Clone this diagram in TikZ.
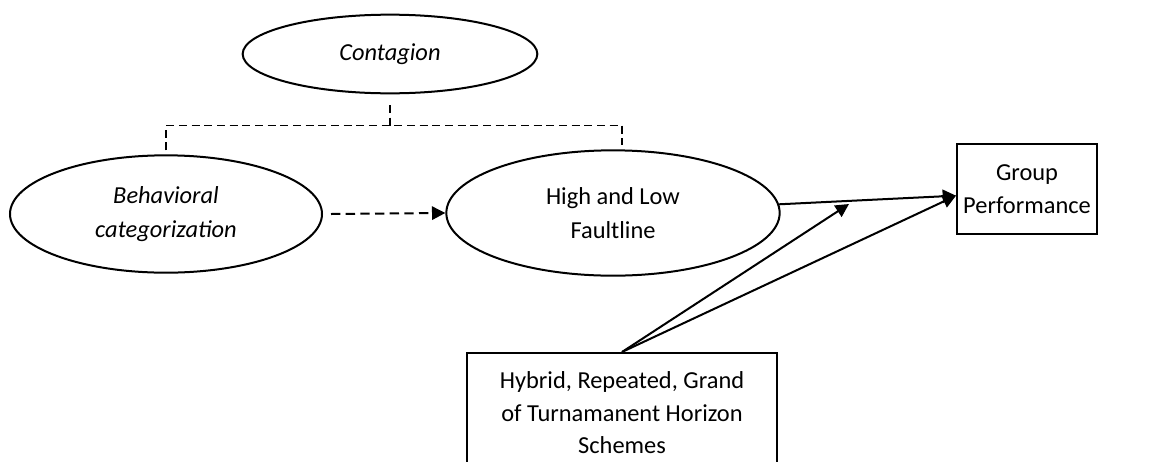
\documentclass[tikz,border=0pt]{standalone}
\usepackage{fontspec}
\setmainfont{Carlito}
\usetikzlibrary{shapes.geometric, arrows.meta, positioning, calc}

\begin{document}
\begin{tikzpicture}[x=0.75pt, y=-0.75pt,
  construct/.style={ellipse, draw, line width=1.5pt, inner sep=0pt, align=center, font=\fontsize{18.3}{25.5}\selectfont},
  italconstruct/.style={construct, font=\fontsize{18.3}{25.5}\selectfont\itshape},
  box/.style={rectangle, draw, line width=1.5pt, align=center, font=\fontsize{18.3}{24.5}\selectfont},
  link/.style={-{Triangle[length=10pt, width=10pt]}, line width=1.5pt},
  dashlink/.style={link, dash pattern=on 7pt off 4pt},
  bracket/.style={line width=1.2pt, dash pattern=on 6pt off 3.5pt}
]
  \clip (0,0) rectangle (1157,461);
  \node[italconstruct, minimum width=221pt, minimum height=59pt] (contagion) at (390,54) {Contagion};
  \node[italconstruct, minimum width=234pt, minimum height=88pt] (behav) at (166,214) {Behavioral\\categorization};
  \node[construct, minimum width=250pt, minimum height=94pt] (fault) at (613,213) {High and Low\\Faultline};
  \node[box, minimum width=105pt, minimum height=68pt] (perf) at (1027,189) {Group\\Performance};
  \node[box, anchor=north, minimum width=233pt, inner ysep=14pt] (scheme) at (622,352) {Hybrid, Repeated, Grand\\of Turnamanent Horizon\\Schemes};
  \coordinate (midtip) at (849,204);

  \draw[link] (fault.3) -- ([yshift=-5pt]perf.west);
  \draw[link] (scheme.north) -- (midtip);
  \draw[link] (scheme.north) -- ([yshift=-5pt]perf.west);
  \draw[dashlink] ([xshift=6pt]behav.east) -- (fault.west);
  \draw[bracket] ([yshift=3pt]behav.north) -- ++(0,-25) -| ([shift={(9,-4)}]fault.north);
  \draw[bracket] ([yshift=-8pt]contagion.south) -- ++(0,22);
\end{tikzpicture}
\end{document}
